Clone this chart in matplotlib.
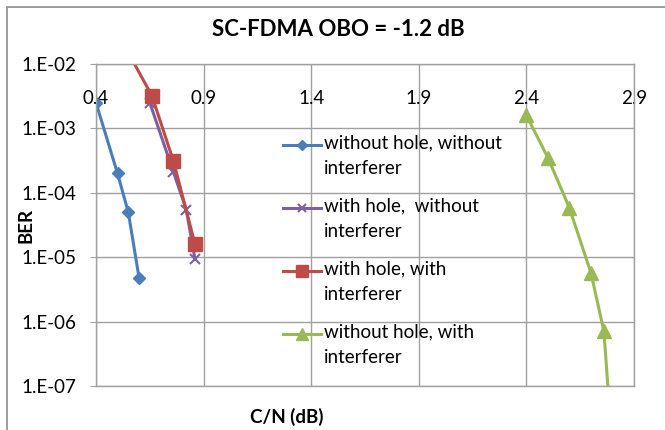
import matplotlib
matplotlib.use('Agg')
import matplotlib.pyplot as plt
from matplotlib.patches import Rectangle

plt.rcParams['font.family'] = ['Lato', 'DejaVu Sans']

# C/N (dB) and BER for each case
cn_wo_hole_wo_int = [0.40, 0.50, 0.55, 0.60]
ber_wo_hole_wo_int = [2.5e-3, 2.0e-4, 5.0e-5, 4.8e-6]

cn_w_hole_wo_int = [0.65, 0.76, 0.82, 0.86]
ber_w_hole_wo_int = [2.5e-3, 2.1e-4, 5.4e-5, 9.3e-6]

cn_w_hole_w_int = [0.55, 0.66, 0.76, 0.86]
ber_w_hole_w_int = [1.5e-2, 3.2e-3, 3.1e-4, 1.6e-5]

cn_wo_hole_w_int = [2.40, 2.50, 2.60, 2.70, 2.76, 2.79]
ber_wo_hole_w_int = [1.6e-3, 3.5e-4, 5.8e-5, 5.7e-6, 7.1e-7, 3.0e-8]

x_ticks = [0.4, 0.9, 1.4, 1.9, 2.4, 2.9]
y_ticks = [1e-7, 1e-6, 1e-5, 1e-4, 1e-3, 1e-2]
y_tick_labels = ['1.E-07', '1.E-06', '1.E-05', '1.E-04', '1.E-03', '1.E-02']

grid_col = '#a0a0a0'
fs = 13.5

fig = plt.figure(figsize=(6.65, 4.3), dpi=100)
ax = fig.add_axes([96/665, 44/430, 538/665, 322/430])

ax.plot(cn_wo_hole_wo_int, ber_wo_hole_wo_int, color='#4A7EBB', lw=2.2, marker='D', ms=6,
        label='without hole, without\ninterferer')
ax.plot(cn_w_hole_wo_int, ber_w_hole_wo_int, color='#7D60A0', lw=2.2, marker='x', ms=7, mew=1.5,
        label='with hole,  without\ninterferer')
ax.plot(cn_w_hole_w_int, ber_w_hole_w_int, color='#BE4B48', lw=2.2, marker='s', ms=10,
        label='with hole, with\ninterferer')
ax.plot(cn_wo_hole_w_int, ber_wo_hole_w_int, color='#98B954', lw=2.2, marker='^', ms=10,
        label='without hole, with\ninterferer')

ax.set_yscale('log')
ax.set_xlim(0.4, 2.9)
ax.set_ylim(1e-7, 1e-2)
ax.set_xticks(x_ticks)
ax.set_xticklabels([str(v) for v in x_ticks])
ax.set_yticks(y_ticks)
ax.set_yticklabels(y_tick_labels)
ax.minorticks_off()
ax.xaxis.tick_top()
ax.tick_params(axis='x', length=0, pad=-31, labelsize=fs)
ax.tick_params(axis='y', length=4.3, color=grid_col, pad=10, labelsize=fs)
ax.grid(True, color=grid_col, lw=1)
for s in ax.spines.values():
    s.set_color(grid_col)
    s.set_linewidth(1)

ax.set_title('SC-FDMA OBO = -1.2 dB', fontsize=16, fontweight='bold', x=0.45, y=1.081, va='center')
ax.set_xlabel('C/N (dB)', fontsize=fs, fontweight='bold')
ax.xaxis.set_label_position('bottom')
ax.xaxis.set_label_coords(0.355, -0.096)
ax.xaxis.label.set_va('center')
ax.set_ylabel('BER', fontsize=fs, fontweight='bold')
ax.yaxis.set_label_coords(-0.13, 0.5)
ax.yaxis.label.set_va('center')

leg = ax.legend(loc='upper left', bbox_to_anchor=(0.3476, 0.781), frameon=False, fontsize=fs,
                borderpad=0, borderaxespad=0, handlelength=2.0, handletextpad=0.2, labelspacing=1.08)
for t in leg.get_texts():
    t.set_linespacing(1.62)
for h in leg.legend_handles:
    h.set_ydata([y + 8.3 for y in h.get_ydata()])
    h.set_markersize(h.get_markersize() * 0.8)

fig.add_artist(Rectangle((7/665, -0.05), 1.0, 1 - 7/430 + 0.05, transform=fig.transFigure,
                         fill=False, edgecolor='#8c8c8c', lw=1.2))

fig.savefig('out.png', dpi=100)
